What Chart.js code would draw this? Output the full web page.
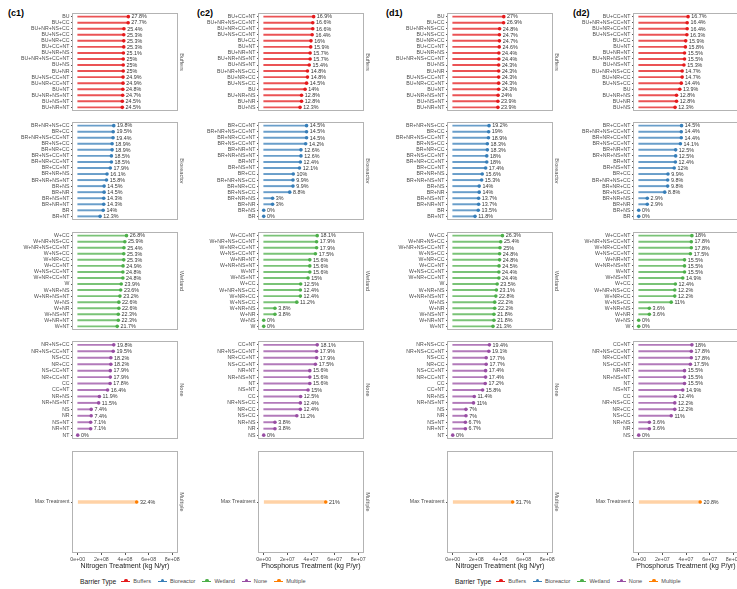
<!DOCTYPE html>
<html>
<head>
<meta charset="utf-8">
<script src="https://cdn.jsdelivr.net/npm/chart.js@4.4.1/dist/chart.umd.min.js"></script>
<style>
  body { margin: 0; background: #fff; width: 737px; height: 589px; overflow: hidden; position: relative;
         font-family: "Liberation Sans", Arial, sans-serif; }
  canvas { position: absolute; }
  .tag { position: absolute; top: 8px; font-weight: bold; font-size: 9px; line-height: 10px; color: #000; }
  .legend { position: absolute; top: 576px; height: 10px; display: flex; align-items: center; white-space: nowrap; }
  .legend .ttl { font-size: 6.7px; color: #1a1a1a; margin-right: 5px; }
  .legend .key { position: relative; width: 9px; height: 8px; margin-right: 3px; }
  .legend .key::before { content: ""; position: absolute; left: 0; right: 0; top: 3.5px; height: 1px; background: var(--c); }
  .legend .key::after { content: ""; position: absolute; left: 2.7px; top: 1.9px; width: 3.6px; height: 3.6px;
                        border-radius: 50%; background: var(--c); }
  .legend .lab { font-size: 5.6px; color: #4d4d4d; margin-right: 7px; }
</style>
</head>
<body>
<script>
const barrierTypes = ["Buffers", "Bioreactor", "Wetland", "None", "Multiple"];
const barrierColors = ["#E41A1C", "#377EB8", "#4DAF4A", "#984EA3", "#FF7F00"];

// category order of the nitrogen panels (c1, d1)
const nBuffersLabels = ["BU", "BU+CC", "BU+NR+NS+CC", "BU+NS+CC", "BU+NR+CC", "BU+CC+NT", "BU+NR+NS", "BU+NR+NS+CC+NT",
  "BU+NS", "BU+NR", "BU+NS+CC+NT", "BU+NR+CC+NT", "BU+NT", "BU+NR+NS+NT", "BU+NS+NT", "BU+NR+NT"];
const nBioreactorLabels = ["BR+NR+NS+CC", "BR+CC", "BR+NR+NS+CC+NT", "BR+NS+CC", "BR+NR+CC", "BR+NS+CC+NT", "BR+NR+CC+NT",
  "BR+CC+NT", "BR+NR+NS", "BR+NR+NS+NT", "BR+NS", "BR+NR", "BR+NS+NT", "BR+NR+NT", "BR", "BR+NT"];
const nWetlandLabels = ["W+CC", "W+NR+NS+CC", "W+NR+NS+CC+NT", "W+NS+CC", "W+NR+CC", "W+CC+NT", "W+NS+CC+NT", "W+NR+CC+NT",
  "W", "W+NR+NS", "W+NR+NS+NT", "W+NS", "W+NR", "W+NS+NT", "W+NR+NT", "W+NT"];
const nNoneLabels = ["NR+NS+CC", "NR+NS+CC+NT", "NS+CC", "NR+CC", "NS+CC+NT", "NR+CC+NT", "CC", "CC+NT", "NR+NS",
  "NR+NS+NT", "NS", "NR", "NS+NT", "NR+NT", "NT"];

// category order of the phosphorus panels (c2, d2)
const pBuffersLabels = ["BU+CC+NT", "BU+NR+NS+CC+NT", "BU+NR+CC+NT", "BU+NS+CC+NT", "BU+CC", "BU+NT", "BU+NR+NT",
  "BU+NR+NS+NT", "BU+NS+NT", "BU+NR+NS+CC", "BU+NR+CC", "BU+NS+CC", "BU", "BU+NR+NS", "BU+NR", "BU+NS"];
const pBioreactorLabels = ["BR+CC+NT", "BR+NR+NS+CC+NT", "BR+NR+CC+NT", "BR+NS+CC+NT", "BR+NR+NT", "BR+NR+NS+NT", "BR+NT",
  "BR+NS+NT", "BR+CC", "BR+NR+NS+CC", "BR+NR+CC", "BR+NS+CC", "BR+NR+NS", "BR+NR", "BR+NS", "BR"];
const pWetlandLabels = ["W+CC+NT", "W+NR+NS+CC+NT", "W+NR+CC+NT", "W+NS+CC+NT", "W+NR+NT", "W+NR+NS+NT", "W+NT", "W+NS+NT",
  "W+CC", "W+NR+NS+CC", "W+NR+CC", "W+NS+CC", "W+NR+NS", "W+NR", "W+NS", "W"];
const pNoneLabels = ["CC+NT", "NR+NS+CC+NT", "NR+CC+NT", "NS+CC+NT", "NR+NT", "NR+NS+NT", "NT", "NS+NT", "CC",
  "NR+NS+CC", "NR+CC", "NS+CC", "NR+NS", "NR", "NS"];
const multipleLabels = ["Max Treatment"];

// percent reductions (the printed labels)
const c1Buffers = [27.8, 27.7, 25.4, 25.3, 25.3, 25.3, 25.1, 25, 25, 25, 24.9, 24.9, 24.8, 24.7, 24.5, 24.5];
const c1Bioreactor = [19.8, 19.5, 19.4, 18.9, 18.9, 18.5, 18.5, 17.9, 16.1, 15.8, 14.5, 14.5, 14.3, 14.3, 14, 12.3];
const c1Wetland = [26.8, 25.9, 25.4, 25.3, 25.3, 24.9, 24.8, 24.8, 23.9, 23.6, 23.2, 22.6, 22.6, 22.3, 22.3, 21.7];
const c1None = [19.8, 19.5, 18.2, 18.2, 17.9, 17.9, 17.8, 16.4, 11.9, 11.5, 7.4, 7.4, 7.1, 7.1, 0];
const c1Multiple = [32.4];

const c2Buffers = [16.9, 16.6, 16.6, 16.4, 16, 15.9, 15.7, 15.7, 15.4, 14.8, 14.8, 14.5, 14, 12.8, 12.8, 12.3];
const c2Bioreactor = [14.5, 14.5, 14.5, 14.2, 12.6, 12.6, 12.4, 12.1, 10, 9.9, 9.9, 8.8, 3, 3, 0, 0];
const c2Wetland = [18.1, 17.9, 17.9, 17.5, 15.6, 15.6, 15.6, 15, 12.5, 12.4, 12.4, 11.2, 3.8, 3.8, 0, 0];
const c2None = [18.1, 17.9, 17.9, 17.5, 15.6, 15.6, 15.6, 15, 12.5, 12.4, 12.4, 11.2, 3.8, 3.8, 0];
const c2Multiple = [21];

const d1Buffers = [27, 26.9, 24.8, 24.7, 24.7, 24.6, 24.4, 24.4, 24.3, 24.3, 24.3, 24.3, 24.3, 24, 23.9, 23.9];
const d1Bioreactor = [19.2, 19, 18.9, 18.3, 18.3, 18, 18, 17.4, 15.6, 15.3, 14, 14, 13.7, 13.7, 13.5, 11.8];
const d1Wetland = [26.3, 25.4, 25, 24.8, 24.8, 24.5, 24.4, 24.4, 23.5, 23.1, 22.8, 22.2, 22.2, 21.8, 21.8, 21.3];
const d1None = [19.4, 19.1, 17.7, 17.7, 17.4, 17.4, 17.2, 15.8, 11.4, 11, 7, 7, 6.7, 6.7, 0];
const d1Multiple = [31.7];

const d2Buffers = [16.7, 16.4, 16.4, 16.3, 15.9, 15.8, 15.5, 15.5, 15.3, 14.7, 14.7, 14.4, 13.9, 12.8, 12.8, 12.3];
const d2Bioreactor = [14.5, 14.4, 14.4, 14.1, 12.5, 12.5, 12.4, 12, 9.9, 9.8, 9.8, 8.8, 2.9, 2.9, 0, 0];
const d2Wetland = [18, 17.8, 17.8, 17.5, 15.5, 15.5, 15.5, 14.9, 12.4, 12.2, 12.2, 11, 3.6, 3.6, 0, 0];
const d2None = [18, 17.8, 17.8, 17.5, 15.5, 15.5, 15.5, 14.9, 12.4, 12.2, 12.2, 11, 3.6, 3.6, 0];
const d2Multiple = [20.8];

const c1Total = 1.54e9;
const c2Total = 2.5e8;
const d1Total = 1.6e9;
const d2Total = 2.5e8;

const nTicks = [0, 2e8, 4e8, 6e8, 8e8];
const nTickLabels = ["0e+00", "2e+08", "4e+08", "6e+08", "8e+08"];
const pTicks = [0, 2e7, 4e7, 6e7, 8e7];
const pTickLabels = ["0e+00", "2e+07", "4e+07", "6e+07", "8e+07"];

const nLabels = [nBuffersLabels, nBioreactorLabels, nWetlandLabels, nNoneLabels, multipleLabels];
const pLabels = [pBuffersLabels, pBioreactorLabels, pWetlandLabels, pNoneLabels, multipleLabels];

const columns = [
  { tag: "(c1)", tagX: 8, left: 73, total: c1Total, ticks: nTicks, tickLabels: nTickLabels,
    title: "Nitrogen Treatment (kg N/yr)", labels: nLabels,
    values: [c1Buffers, c1Bioreactor, c1Wetland, c1None, c1Multiple] },
  { tag: "(c2)", tagX: 197, left: 259, total: c2Total, ticks: pTicks, tickLabels: pTickLabels,
    title: "Phosphorus Treatment (kg P/yr)", labels: pLabels,
    values: [c2Buffers, c2Bioreactor, c2Wetland, c2None, c2Multiple] },
  { tag: "(d1)", tagX: 386, left: 448, total: d1Total, ticks: nTicks, tickLabels: nTickLabels,
    title: "Nitrogen Treatment (kg N/yr)", labels: nLabels,
    values: [d1Buffers, d1Bioreactor, d1Wetland, d1None, d1Multiple] },
  { tag: "(d2)", tagX: 573, left: 634, total: d2Total, ticks: pTicks, tickLabels: pTickLabels,
    title: "Phosphorus Treatment (kg P/yr)", labels: pLabels,
    values: [d2Buffers, d2Bioreactor, d2Wetland, d2None, d2Multiple] },
];

const FONT = "'Liberation Sans', Arial, sans-serif";
const panelTops = [9, 118, 228, 337, 447];
const panelW = 104, panelH = 106, yAxisW = 72, stripW = 14, xAxisH = 17;

function alpha(hex, a) {
  const n = parseInt(hex.slice(1), 16);
  return `rgba(${n >> 16}, ${(n >> 8) & 255}, ${n & 255}, ${a})`;
}

// panel border + rotated strip text
const framePlugin = {
  id: "frame",
  afterDraw(chart, args, opts) {
    const { ctx, chartArea: a } = chart;
    ctx.save();
    ctx.strokeStyle = "#b3b3b3";
    ctx.lineWidth = 1;
    ctx.strokeRect(a.left - 0.5, a.top + 0.5, a.width + 1, a.height - 1);
    ctx.translate(a.right + 5, (a.top + a.bottom) / 2);
    ctx.rotate(Math.PI / 2);
    ctx.fillStyle = "#555";
    ctx.font = "5.6px " + FONT;
    ctx.textAlign = "center";
    ctx.textBaseline = "middle";
    ctx.fillText(opts.text, 0, 0);
    ctx.restore();
  }
};

// percent labels next to the points
const pctPlugin = {
  id: "pct",
  afterDatasetsDraw(chart, args, opts) {
    const { ctx } = chart;
    const meta = chart.getDatasetMeta(1);
    ctx.save();
    ctx.fillStyle = "#333";
    ctx.font = "5.4px " + FONT;
    ctx.textBaseline = "middle";
    meta.data.forEach((pt, i) => ctx.fillText(opts.texts[i], pt.x + 3.2, pt.y + 0.3));
    ctx.restore();
  }
};

columns.forEach(col => {
  const tag = document.createElement("div");
  tag.className = "tag";
  tag.style.left = col.tagX + "px";
  tag.textContent = col.tag;
  document.body.appendChild(tag);

  const xMax = col.ticks[col.ticks.length - 1];

  col.values.forEach((vals, r) => {
    const labels = col.labels[r];
    const bottom = r === barrierTypes.length - 1;
    const color = barrierColors[r];
    const pts = vals.map((v, i) => ({ x: v / 100 * col.total, y: i }));

    const cv = document.createElement("canvas");
    cv.width = yAxisW + panelW + stripW;
    cv.height = panelH + (bottom ? xAxisH : 0);
    cv.style.left = (col.left - yAxisW) + "px";
    cv.style.top = panelTops[r] + "px";
    document.body.appendChild(cv);

    new Chart(cv, {
      type: "scatter",
      data: {
        datasets: [
          {
            type: "bar",
            indexAxis: "y",
            data: pts,
            backgroundColor: bottom ? alpha(color, 0.35) : alpha(color, 0.75),
            barThickness: bottom ? 3 : 1.3,
            order: 2,
          },
          {
            type: "scatter",
            data: pts,
            pointRadius: 1.8,
            pointBackgroundColor: color,
            pointBorderWidth: 0,
            order: 1,
          },
        ],
      },
      options: {
        responsive: false,
        animation: false,
        events: [],
        layout: { padding: { left: 0, right: stripW, top: 0, bottom: 0 } },
        plugins: {
          legend: { display: false },
          tooltip: { enabled: false },
          frame: { text: barrierTypes[r] },
          pct: { texts: vals.map(v => v + "%") },
        },
        scales: {
          x: {
            type: "linear",
            position: "bottom",
            display: bottom,
            min: -0.05 * xMax,
            max: 1.05 * xMax,
            bounds: "data",
            offset: false,
            grid: { drawOnChartArea: false, tickLength: 2, color: "#555" },
            border: { display: false },
            ticks: {
              autoSkip: false, maxRotation: 0, padding: 1, color: "#4d4d4d",
              font: { size: 5.3, family: FONT },
              callback: (v, i) => col.tickLabels[i],
            },
            title: {
              display: true, text: col.title, color: "#1a1a1a",
              font: { size: 7, family: FONT }, padding: { top: 0, bottom: 0 },
            },
            afterBuildTicks: s => { s.ticks = col.ticks.map(v => ({ value: v })); },
            afterFit: s => {
              s.height = bottom ? xAxisH : 0;
              s.paddingLeft = 0;
              s.paddingRight = 0;
            },
          },
          y: {
            type: "linear",
            reverse: true,
            min: -0.6,
            max: labels.length - 0.4,
            bounds: "data",
            offset: false,
            grid: { drawOnChartArea: false, tickLength: 2, color: "#555", offset: false },
            border: { display: false },
            ticks: {
              autoSkip: false, padding: 1.5, color: "#4d4d4d",
              font: { size: 5.2, family: FONT },
              callback: v => labels[v],
            },
            afterBuildTicks: s => { s.ticks = labels.map((l, i) => ({ value: i })); },
            afterFit: s => {
              s.width = yAxisW;
              s.paddingTop = 0;
              s.paddingBottom = 0;
            },
          },
        },
      },
      plugins: [framePlugin, pctPlugin],
    });
  });
});

// legends, one under each pair of columns
[80, 455].forEach(x => {
  const lg = document.createElement("div");
  lg.className = "legend";
  lg.style.left = x + "px";
  let html = '<span class="ttl">Barrier Type</span>';
  barrierTypes.forEach((t, i) => {
    html += `<span class="key" style="--c:${barrierColors[i]}"></span><span class="lab">${t}</span>`;
  });
  lg.innerHTML = html;
  document.body.appendChild(lg);
});
</script>
</body>
</html>
